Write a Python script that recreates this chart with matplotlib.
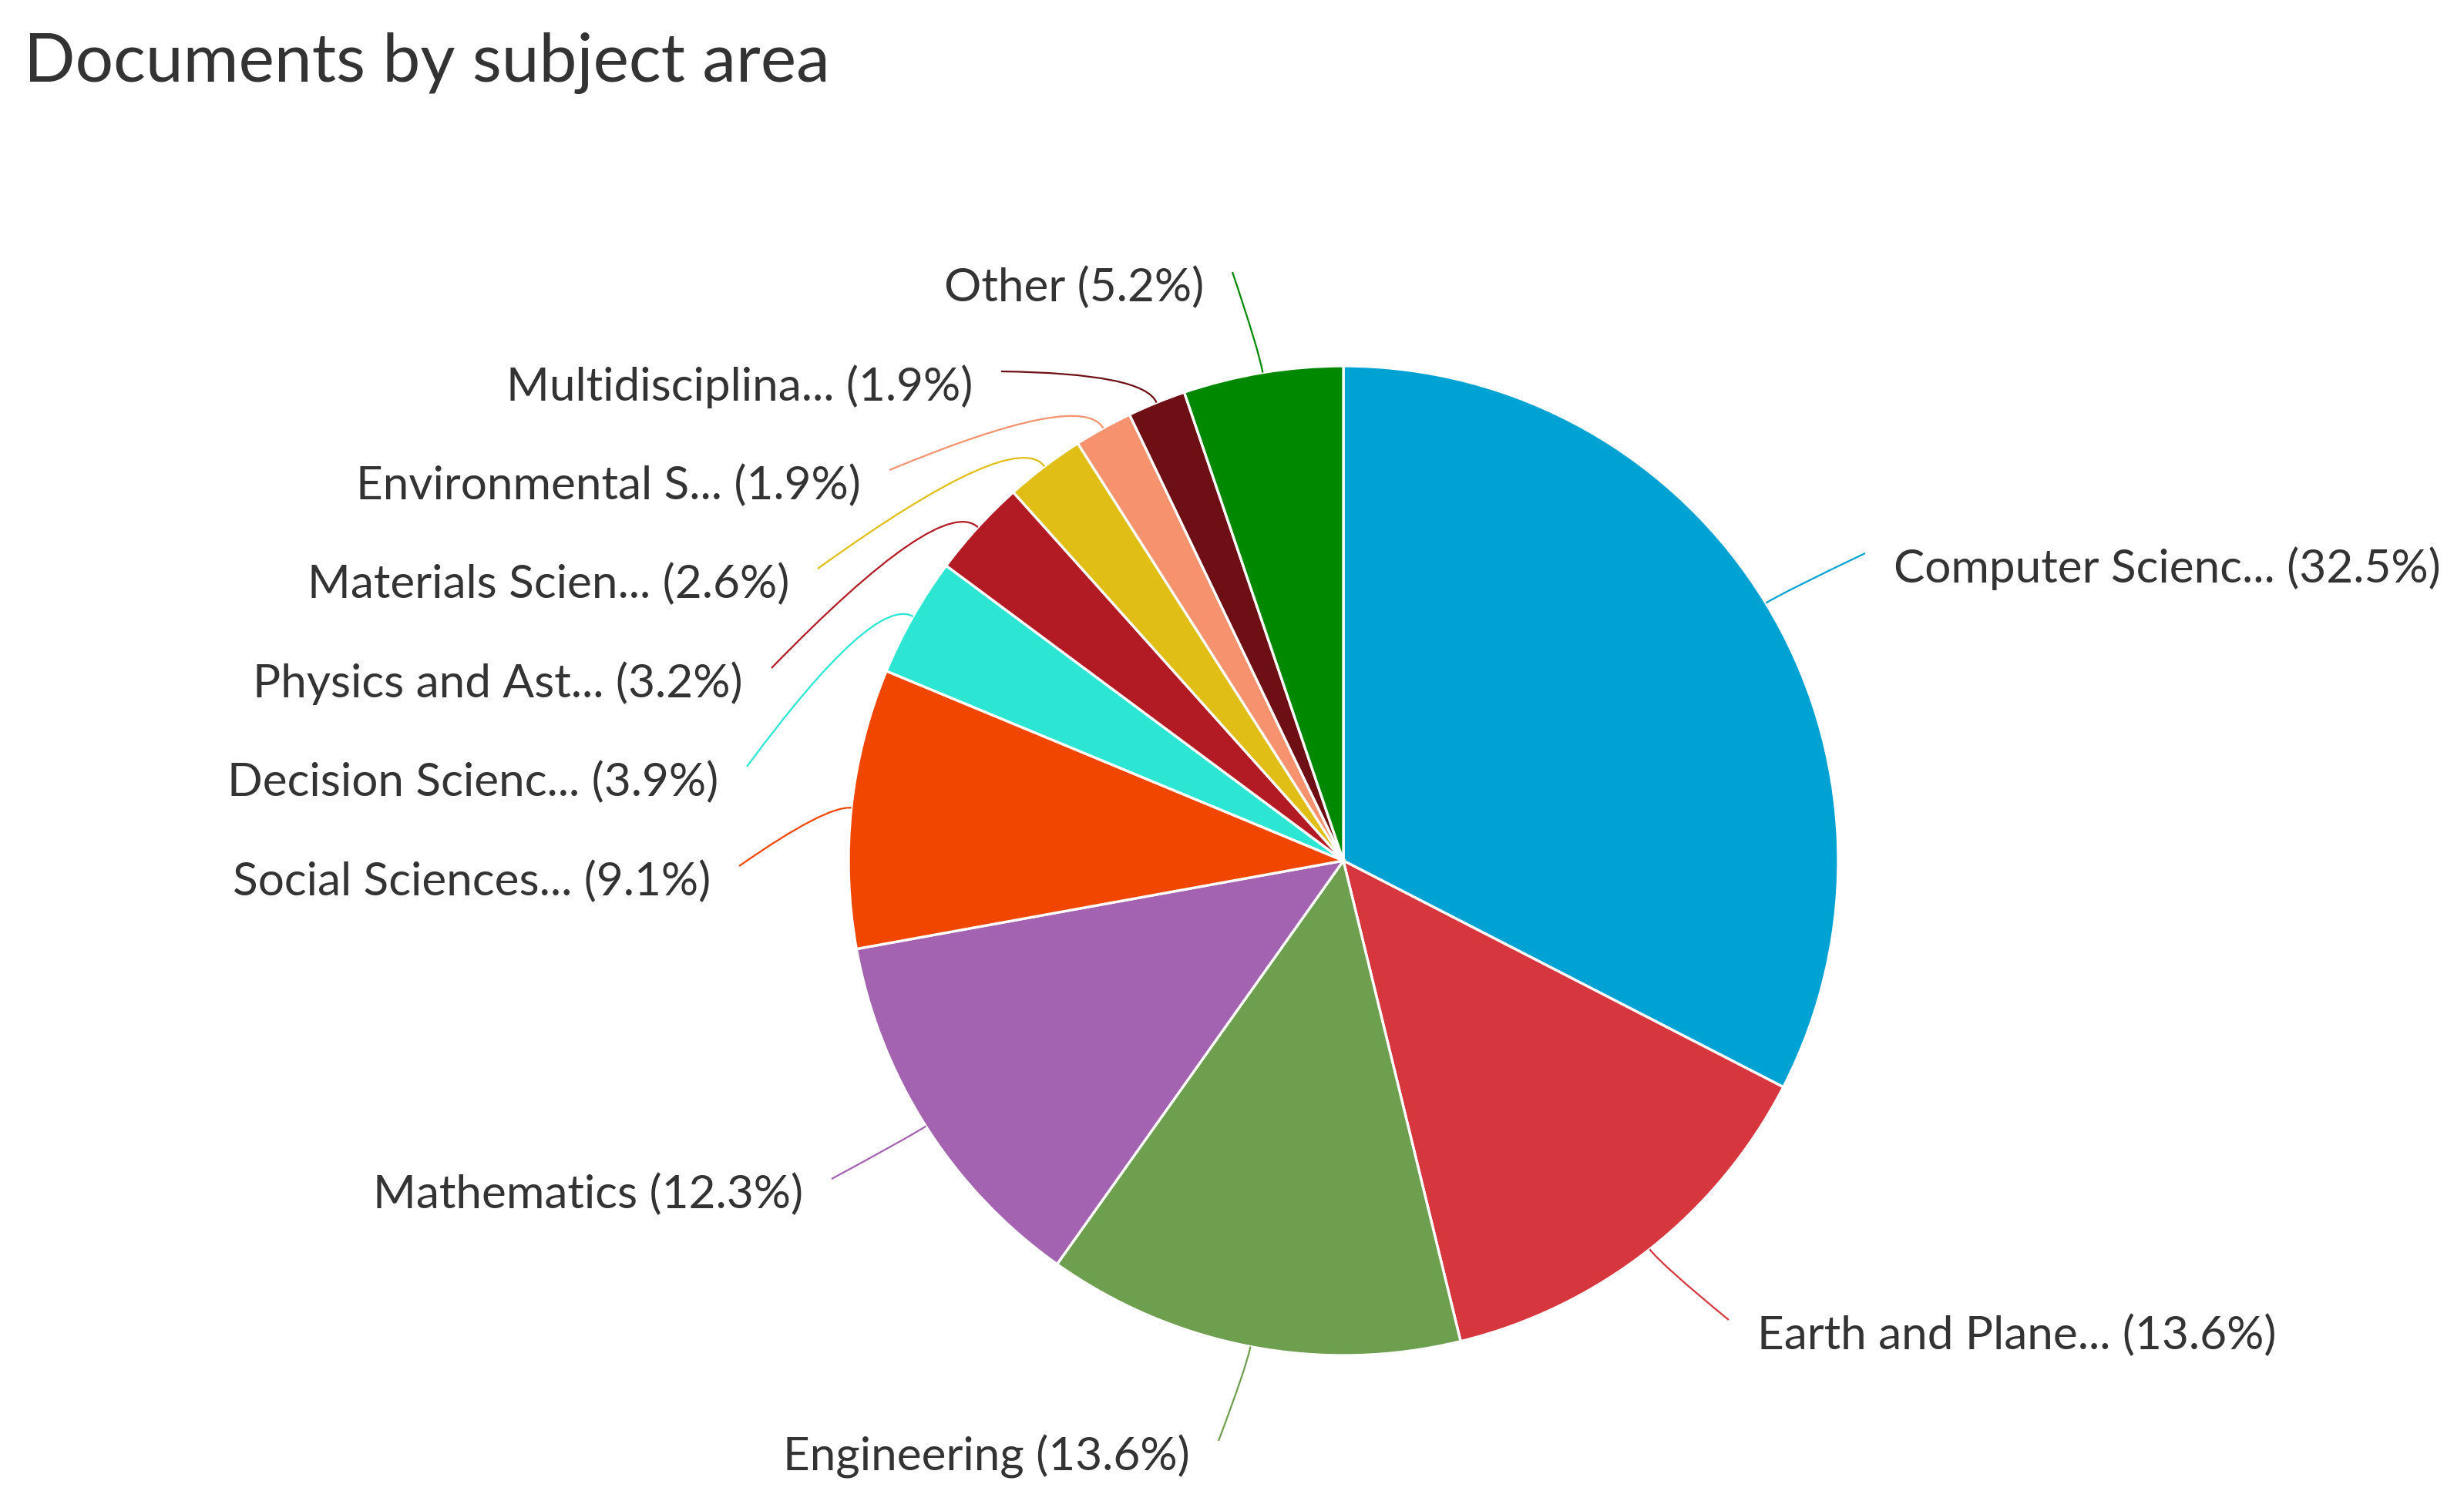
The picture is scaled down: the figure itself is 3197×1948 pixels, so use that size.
import numpy as np
import matplotlib.pyplot as plt
from matplotlib.path import Path
from matplotlib.patches import PathPatch

plt.rcParams['font.family'] = ['Lato', 'DejaVu Sans']

# datos del grafico (orden horario desde arriba)
labels = ["Computer Scienc...", "Earth and Plane...", "Engineering", "Mathematics",
          "Social Sciences...", "Decision Scienc...", "Physics and Ast...",
          "Materials Scien...", "Environmental S...", "Multidisciplina...", "Other"]
percents = [32.5, 13.6, 13.6, 12.3, 9.1, 3.9, 3.2, 2.6, 1.9, 1.9, 5.2]
colors = ["#00A1D3", "#D6373E", "#6E9F4F", "#A463B0", "#F04600", "#2CE6D3",
          "#B21B23", "#E0BE16", "#F6926E", "#6E0F16", "#008800"]

W, H = 3197, 1948
# posicion de las etiquetas en pixeles (x del borde del texto, y del centro)
label_pos = [(2457, 738), (2280, 1733), (1544, 1890), (1042, 1550), (922, 1144),
             (932, 1015), (964, 887), (1024, 758), (1117, 630), (1262, 502),
             (1562, 373)]

fig = plt.figure(figsize=(W / 200, H / 200), dpi=200)
ax = fig.add_axes([0, 0, 1, 1])

cx, cy, r = 1743, H - 1117, 642
wedges, _ = ax.pie(percents, colors=colors, startangle=90, counterclock=False,
                   radius=r, center=(cx, cy), frame=True,
                   wedgeprops=dict(edgecolor='white', linewidth=1.2))

ax.set_xlim(0, W)
ax.set_ylim(0, H)
ax.set_aspect('equal')
ax.axis('off')

# etiquetas con lineas conectoras curvas
for w, lab, p, col, (lx, ly) in zip(wedges, labels, percents, colors, label_pos):
    ang = np.deg2rad((w.theta1 + w.theta2) / 2)
    ux, uy = np.cos(ang), np.sin(ang)
    ex, ey = cx + r * ux, cy + r * uy
    ly = H - ly
    if lx > cx:
        tx, ha = lx - 37, 'left'
    else:
        tx, ha = lx + 37, 'right'
    ty = ly + 20
    d = np.hypot(tx - ex, ty - ey)
    ctrl = (ex + ux * d * 0.2, ey + uy * d * 0.2)
    path = Path([(ex, ey), ctrl, (tx, ty)], [Path.MOVETO, Path.CURVE3, Path.CURVE3])
    ax.add_patch(PathPatch(path, facecolor='none', edgecolor=col, linewidth=0.8))
    ax.text(lx, ly, f"{lab} ({p}%)", ha=ha, va='center', fontsize=21.7, color='#333333')

ax.text(31, H - 82, "Documents by subject area", ha='left', va='center',
        fontsize=31.5, color='#333333')

plt.savefig("out.png", dpi=200)
plt.close()
